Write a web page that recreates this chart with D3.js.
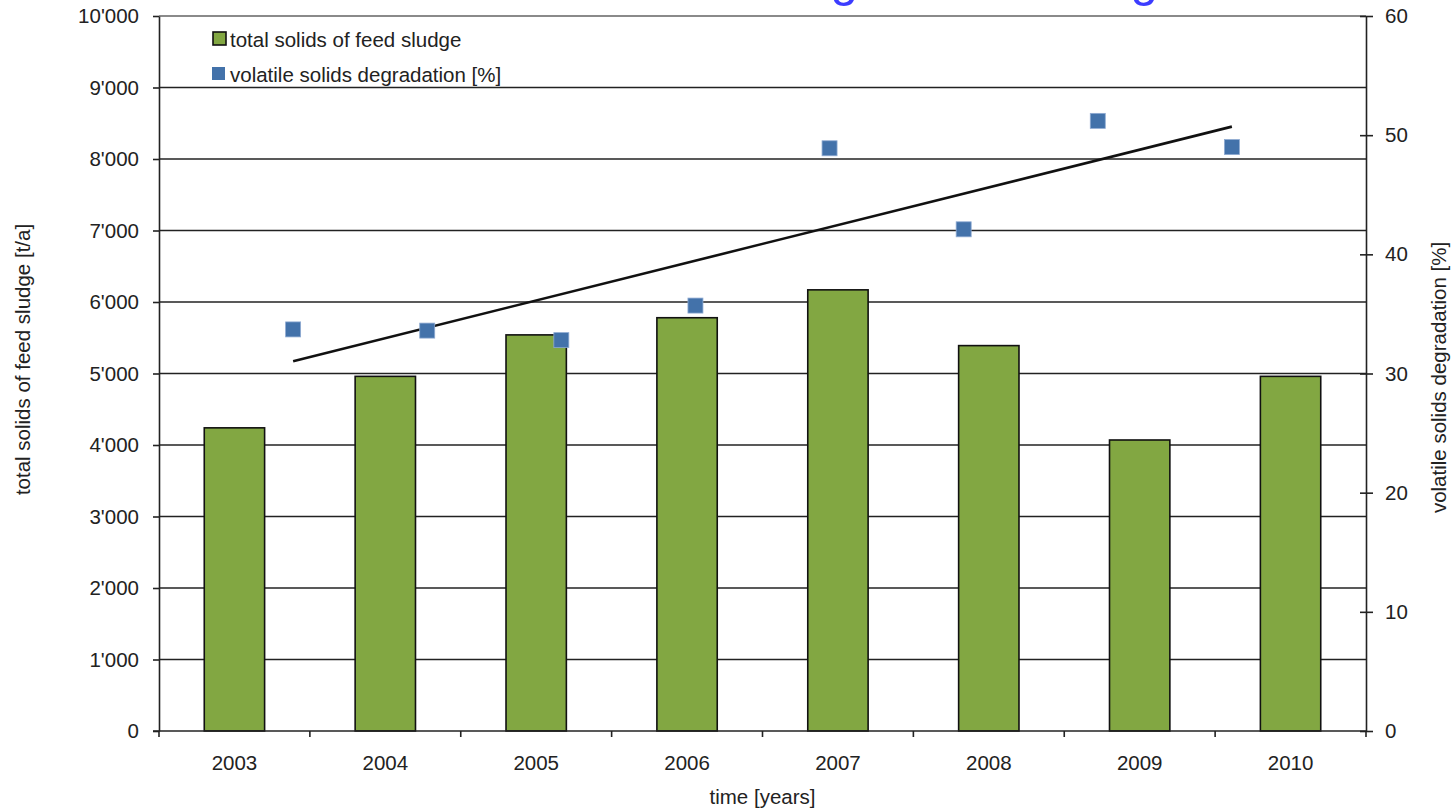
<!DOCTYPE html>
<html>
<head>
<meta charset="utf-8">
<script src="https://cdn.jsdelivr.net/npm/d3@7"></script>
<style>
    body { margin: 0; background: #fff; }
    svg { display: block; font-family: "Liberation Sans", Arial, sans-serif; }
    .tick text { font-size: 20.5px; fill: #222; }
</style>
</head>
<body>
<div id="chart"></div>
<script>
const years = ['2003', '2004', '2005', '2006', '2007', '2008', '2009', '2010'];
const totalSolids = [4240, 4960, 5540, 5780, 6170, 5390, 4070, 4960];
const vsDegradation = [33.7, 33.6, 32.8, 35.7, 48.9, 42.1, 51.2, 49.0];
const leftTicks = [0, 1000, 2000, 3000, 4000, 5000, 6000, 7000, 8000, 9000, 10000];
const rightTicks = [0, 10, 20, 30, 40, 50, 60];

const width = 1452;
const height = 809;
const margin = { top: 16, right: 86, bottom: 78, left: 159 };

const svg = d3.select('#chart').append('svg')
    .attr('width', width)
    .attr('height', height);

const x0 = margin.left;
const x1 = width - margin.right;
const yBottom = height - margin.bottom;

const xBand = d3.scaleBand()
    .domain(years)
    .range([x0, x1])
    .paddingInner(0.6)
    .paddingOuter(0.3);

// scatter series is drawn on a numeric year axis, one year wider on each side
const xYear = d3.scaleLinear()
    .domain([+years[0] - 1, +years[years.length - 1] + 1])
    .range([x0, x1]);

const yLeft = d3.scaleLinear().domain([0, 10000]).range([yBottom, margin.top]);
const yRight = d3.scaleLinear().domain([0, 60]).range([yBottom, margin.top]);

const fmt = d => d3.format(',')(d).replace(/,/g, "'");

// cut-off title at the very top
svg.append('text')
    .attr('x', 613)
    .attr('y', -4)
    .attr('fill', '#3c3cff')
    .style('font-size', '49.5px')
    .text('Feed sludge and VS degradation');

// gridlines
svg.append('g')
    .selectAll('line')
    .data(leftTicks.filter(d => d > 0))
    .enter().append('line')
    .attr('x1', x0)
    .attr('x2', x1)
    .attr('y1', d => yLeft(d))
    .attr('y2', d => yLeft(d))
    .attr('stroke', d => d === 10000 ? '#8a8a8a' : '#222')
    .attr('stroke-width', d => d === 10000 ? 2 : 1.6);

// bars
svg.append('g')
    .selectAll('rect')
    .data(years)
    .enter().append('rect')
    .attr('x', d => xBand(d))
    .attr('y', (d, i) => yLeft(totalSolids[i]))
    .attr('width', xBand.bandwidth())
    .attr('height', (d, i) => yBottom - yLeft(totalSolids[i]))
    .attr('fill', '#82a742')
    .attr('stroke', '#111')
    .attr('stroke-width', 1.6);

// left axis
const leftAxis = svg.append('g')
    .attr('transform', `translate(${x0},0)`)
    .call(d3.axisLeft(yLeft).tickValues(leftTicks).tickFormat(fmt).tickSizeInner(6).tickSizeOuter(0).tickPadding(14));
leftAxis.select('.domain').attr('stroke', '#222').attr('stroke-width', 1.6);
leftAxis.selectAll('.tick line').attr('stroke', '#222').attr('stroke-width', 1.6);

// right axis, ticks cross the line
const rightAxis = svg.append('g')
    .attr('transform', `translate(${x1},0)`)
    .call(d3.axisRight(yRight).tickValues(rightTicks).tickSizeInner(7).tickSizeOuter(0).tickPadding(12));
rightAxis.select('.domain').attr('stroke', '#222').attr('stroke-width', 1.6);
rightAxis.selectAll('.tick line').attr('x1', -6).attr('stroke', '#222').attr('stroke-width', 1.6);

// bottom axis with ticks between categories
const boundaries = d3.range(years.length + 1).map(i => x0 + i * xBand.step());
svg.append('line')
    .attr('x1', x0 - 6).attr('x2', x1)
    .attr('y1', yBottom).attr('y2', yBottom)
    .attr('stroke', '#222').attr('stroke-width', 1.6);
svg.append('g')
    .selectAll('line')
    .data(boundaries)
    .enter().append('line')
    .attr('x1', d => d).attr('x2', d => d)
    .attr('y1', yBottom).attr('y2', yBottom + 6)
    .attr('stroke', '#222').attr('stroke-width', 1.6);
svg.append('g')
    .selectAll('text')
    .data(years)
    .enter().append('text')
    .attr('x', d => xBand(d) + xBand.bandwidth() / 2)
    .attr('y', yBottom + 39)
    .attr('text-anchor', 'middle')
    .attr('fill', '#222')
    .style('font-size', '20.5px')
    .text(d => d);

// linear trendline of the degradation series
const xs = years.map(d => +d);
const mx = d3.mean(xs);
const my = d3.mean(vsDegradation);
const slope = d3.sum(xs, (v, i) => (v - mx) * (vsDegradation[i] - my)) / d3.sum(xs, v => (v - mx) ** 2);
const trend = [xs[0], xs[xs.length - 1]].map(v => [v, my + slope * (v - mx)]);
svg.append('path')
    .datum(trend)
    .attr('d', d3.line().x(d => xYear(d[0])).y(d => yRight(d[1])))
    .attr('fill', 'none')
    .attr('stroke', '#111')
    .attr('stroke-width', 2.6);

// degradation markers
const ms = 15;
svg.append('g')
    .selectAll('rect')
    .data(years)
    .enter().append('rect')
    .attr('x', d => xYear(+d) - ms / 2)
    .attr('y', (d, i) => yRight(vsDegradation[i]) - ms / 2)
    .attr('width', ms)
    .attr('height', ms)
    .attr('fill', '#4372aa')
    .attr('stroke', '#8eaad2')
    .attr('stroke-width', 0.8);

// legend
const legend = svg.append('g');
legend.append('rect')
    .attr('x', 213).attr('y', 32).attr('width', 13).attr('height', 13)
    .attr('fill', '#82a742').attr('stroke', '#111').attr('stroke-width', 1.6);
legend.append('text')
    .attr('x', 230).attr('y', 47)
    .attr('fill', '#222').style('font-size', '20.5px')
    .text('total solids of feed sludge');
legend.append('rect')
    .attr('x', 212).attr('y', 67).attr('width', 13).attr('height', 13)
    .attr('fill', '#4372aa');
legend.append('text')
    .attr('x', 230).attr('y', 82)
    .attr('fill', '#222').style('font-size', '20.5px')
    .text('volatile solids degradation [%]');

// axis titles
svg.append('text')
    .attr('transform', `translate(30,${(margin.top + yBottom) / 2 - 14}) rotate(-90)`)
    .attr('text-anchor', 'middle')
    .attr('fill', '#222')
    .style('font-size', '20.5px')
    .text('total solids of feed sludge [t/a]');

svg.append('text')
    .attr('transform', `translate(1446,${(margin.top + yBottom) / 2 + 4}) rotate(-90)`)
    .attr('text-anchor', 'middle')
    .attr('fill', '#222')
    .style('font-size', '20.5px')
    .text('volatile solids degradation [%]');

svg.append('text')
    .attr('x', (x0 + x1) / 2)
    .attr('y', 804)
    .attr('text-anchor', 'middle')
    .attr('fill', '#222')
    .style('font-size', '20.5px')
    .text('time [years]');
</script>
</body>
</html>
